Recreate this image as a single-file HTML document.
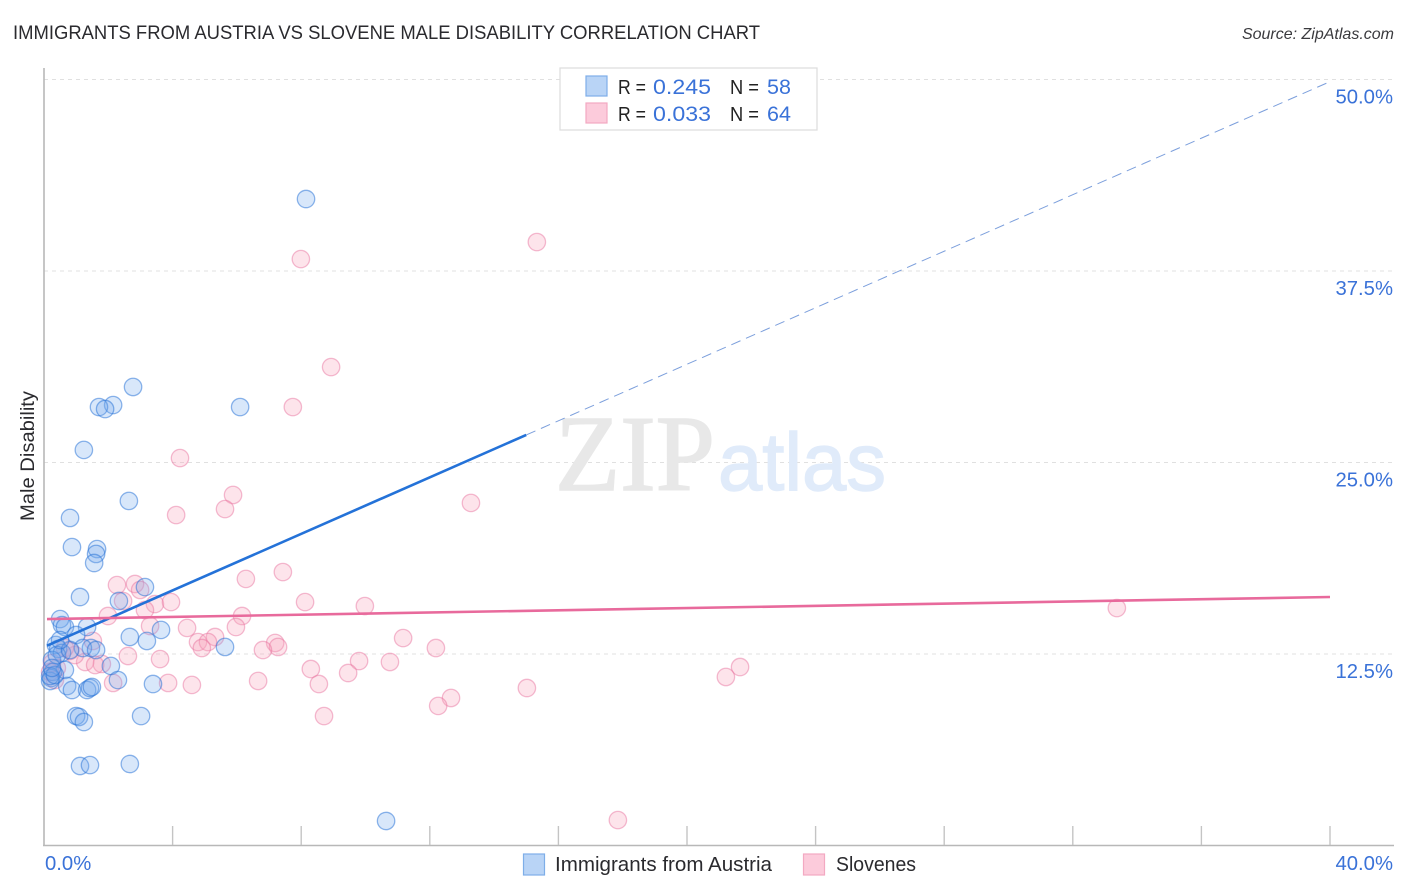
<!DOCTYPE html>
<html lang="en">
<head>
<meta charset="utf-8">
<title>Immigrants from Austria vs Slovene Male Disability Correlation Chart</title>
<style>
html,body{margin:0;padding:0;background:#fff;}
body{width:1406px;height:892px;overflow:hidden;}
svg{display:block;font-family:"Liberation Sans",sans-serif;}
</style>
</head>
<body>
<svg id="chart" width="1406" height="892" viewBox="0 0 1406 892" xmlns="http://www.w3.org/2000/svg">
  <rect x="0" y="0" width="1406" height="892" fill="#ffffff"/>
  <text x="13" y="39" font-size="19" fill="#2a2a2e" textLength="747" lengthAdjust="spacingAndGlyphs">IMMIGRANTS FROM AUSTRIA VS SLOVENE MALE DISABILITY CORRELATION CHART</text>
  <text x="1394" y="39" font-size="16" font-style="italic" fill="#3a3a3e" text-anchor="end">Source: ZipAtlas.com</text>
  <g id="grid"></g>
  <g>
    <text x="555" y="490" font-family="'Liberation Serif',serif" font-size="108" fill="#e8e8e8" stroke="#e8e8e8" stroke-width="1.6" textLength="160" lengthAdjust="spacingAndGlyphs">ZIP</text>
    <text x="718" y="490" font-size="82" fill="#e0ebfa" stroke="#e0ebfa" stroke-width="1.4" textLength="168" lengthAdjust="spacingAndGlyphs">atlas</text>
  </g>
  <g id="axes"></g>
  <g id="points"></g>
  <g id="trends"></g>
  <text transform="translate(34 456) rotate(-90)" font-size="19" fill="#2a2a2e" text-anchor="middle" textLength="130" lengthAdjust="spacingAndGlyphs">Male Disability</text>

  <g>
    <rect x="560" y="68" width="257" height="62" fill="#ffffff" stroke="#dcdcdc" stroke-width="1.2"/>
    <rect x="586" y="76" width="21" height="20" fill="#b9d4f6" stroke="#7eaee8" stroke-width="1.2"/>
    <text x="618" y="94" font-size="20.5" fill="#222" textLength="28" lengthAdjust="spacingAndGlyphs">R =</text>
    <text x="653" y="94" font-size="21.5" fill="#3a72d8" textLength="58" lengthAdjust="spacingAndGlyphs">0.245</text>
    <text x="730" y="94" font-size="20.5" fill="#222" textLength="29" lengthAdjust="spacingAndGlyphs">N =</text>
    <text x="767" y="94" font-size="21.5" fill="#3a72d8">58</text>
    <rect x="586" y="103" width="21" height="20" fill="#fccbdb" stroke="#f3a9c2" stroke-width="1.2"/>
    <text x="618" y="121" font-size="20.5" fill="#222" textLength="28" lengthAdjust="spacingAndGlyphs">R =</text>
    <text x="653" y="121" font-size="21.5" fill="#3a72d8" textLength="58" lengthAdjust="spacingAndGlyphs">0.033</text>
    <text x="730" y="121" font-size="20.5" fill="#222" textLength="29" lengthAdjust="spacingAndGlyphs">N =</text>
    <text x="767" y="121" font-size="21.5" fill="#3a72d8">64</text>
  </g>

  <g>
    <rect x="523.5" y="854" width="21" height="21" fill="#b9d4f6" stroke="#7eaee8" stroke-width="1.2"/>
    <text x="555" y="871" font-size="20" fill="#2a2a2e" textLength="217" lengthAdjust="spacingAndGlyphs">Immigrants from Austria</text>
    <rect x="803.5" y="854" width="21" height="21" fill="#fccbdb" stroke="#f3a9c2" stroke-width="1.2"/>
    <text x="836" y="871" font-size="20" fill="#2a2a2e" textLength="80" lengthAdjust="spacingAndGlyphs">Slovenes</text>
  </g>
</svg>
<script>
var austriaX = [8.15,2.77,2.15,1.71,1.90,6.10,1.24,2.64,0.81,0.87,1.65,1.62,1.56,1.12,3.14,2.33,0.50,0.56,0.65,1.34,1.00,2.67,3.20,3.64,5.63,0.37,0.44,1.46,1.21,0.56,2.08,0.65,0.25,0.28,0.22,0.19,2.30,3.39,0.72,0.87,1.34,1.43,1.49,3.02,1.00,1.09,1.24,1.12,1.43,2.67,10.64,0.19,0.34,0.40,0.81,0.50,1.62,0.25];
var austriaY = [42.20,29.93,28.75,28.62,28.49,28.62,25.82,22.49,21.38,19.48,19.35,19.03,18.44,16.22,16.87,15.96,14.78,14.39,14.26,14.26,13.74,13.61,13.35,14.07,12.96,13.09,12.83,12.89,12.89,12.57,11.72,11.46,12.11,11.33,10.93,10.74,10.80,10.54,10.41,10.15,10.15,10.28,10.35,8.45,8.45,8.39,8.06,5.19,5.25,5.32,1.60,11.06,11.13,12.43,12.76,13.41,12.76,11.59];
var sloveneX = [15.33,7.99,8.93,7.74,4.23,5.88,5.63,4.11,13.28,7.43,6.28,2.27,2.83,2.99,3.45,3.14,3.95,2.46,8.12,9.98,33.37,1.99,6.16,5.97,3.30,4.45,1.52,5.32,4.79,5.10,4.91,7.19,7.28,6.81,11.17,12.19,2.61,3.61,9.80,10.76,8.30,9.46,21.65,21.21,6.66,8.55,3.86,4.60,2.15,15.02,12.66,12.26,8.71,17.85,1.80,1.28,1.59,0.96,0.65,0.81,0.40,0.25,0.34,0.19];
var sloveneY = [39.39,38.28,31.23,28.62,25.29,22.88,21.96,21.57,22.36,17.85,17.40,17.00,17.07,16.68,15.76,15.37,15.89,15.96,15.89,15.63,15.50,14.98,14.98,14.26,14.33,14.20,13.35,13.61,13.28,13.28,12.89,13.22,12.96,12.76,13.54,12.89,12.37,12.17,12.04,11.98,11.52,11.26,11.65,11.00,10.74,10.54,10.61,10.48,10.61,10.28,9.63,9.11,8.45,1.66,11.85,11.98,11.78,12.43,12.89,12.70,11.59,11.91,10.80,11.33];
var yTickValues = [12.5,25,37.5,50];
var yTickLabels = ['12.5%','25.0%','37.5%','50.0%'];
var xTickValues = [0,4,8,12,16,20,24,28,32,36,40];
var xEndValues = [0,40];
var xEndLabels = ['0.0%','40.0%'];
var austriaTrendX = [0,15,40];
var austriaTrendY = [12.96,26.8,49.86];
var sloveneTrendX = [0,40];
var sloveneTrendY = [14.78,16.22];

var NS = 'http://www.w3.org/2000/svg';
function xScale(v){ return 44 + v * 32.15; }
function yScale(v){ return 845.5 - v * 15.32; }
function make(parent, tag, attrs){
  var el = document.createElementNS(NS, tag);
  for (var k in attrs) el.setAttribute(k, attrs[k]);
  parent.appendChild(el);
  return el;
}
var grid = document.getElementById('grid');
var axes = document.getElementById('axes');
var points = document.getElementById('points');
var trends = document.getElementById('trends');

yTickValues.forEach(function(v, i){
  var y = yScale(v);
  var line = make(grid, 'line', {x1:44, x2:1394, y1:y, y2:y, stroke:'#e0e0e0', 'stroke-width':1, 'stroke-dasharray':'4 4'});
  
  
  var label = make(axes, 'text', {x:1393, y:y + 24, 'font-size':20.3, fill:'#3a72d8', 'text-anchor':'end'});
  label.textContent = yTickLabels[i];
  
  
});

var yAxis = make(axes, 'line', {x1:44, x2:44, y1:68, y2:846, stroke:'#b8b8b8', 'stroke-width':1.6});


var xAxis = make(axes, 'line', {x1:43, x2:1394, y1:845.5, y2:845.5, stroke:'#b8b8b8', 'stroke-width':1.4});



xTickValues.forEach(function(v){
  if (v === 0) return;
  var x = xScale(v);
  var tick = make(axes, 'line', {x1:x, x2:x, y1:826, y2:845, stroke:'#c4c4c4', 'stroke-width':1.4});
  
  
});

xEndValues.forEach(function(v, i){
  var label = make(axes, 'text', {x: i === 0 ? xScale(v) + 1 : 1393, y:870, 'font-size':20.3, fill:'#3a72d8', 'text-anchor': i === 0 ? 'start' : 'end'});
  label.textContent = xEndLabels[i];
  
  
});

sloveneX.forEach(function(v, i){
  var c = make(points, 'circle', {cx:xScale(v), cy:yScale(sloveneY[i]), r:8.7, fill:'rgba(247,165,190,0.30)', stroke:'rgba(232,115,158,0.48)', 'stroke-width':1.3});
  
  
});
austriaX.forEach(function(v, i){
  var c = make(points, 'circle', {cx:xScale(v), cy:yScale(austriaY[i]), r:8.7, fill:'rgba(115,170,238,0.28)', stroke:'rgba(40,115,215,0.52)', 'stroke-width':1.3});
  
  
});

var blueSolid = make(trends, 'line', {x1:xScale(austriaTrendX[0]) + 3, y1:yScale(austriaTrendY[0] + 3 / 32.15 * 0.9225), x2:xScale(austriaTrendX[1]), y2:yScale(austriaTrendY[1]), stroke:'#2472d8', 'stroke-width':2.6});


var blueDash = make(trends, 'line', {x1:xScale(austriaTrendX[1]), y1:yScale(austriaTrendY[1]), x2:xScale(austriaTrendX[2]), y2:yScale(austriaTrendY[2]), stroke:'#7c9fdc', 'stroke-width':1, 'stroke-dasharray':'10 6'});


var pinkLine = make(trends, 'line', {x1:xScale(sloveneTrendX[0]) + 3, y1:yScale(sloveneTrendY[0]), x2:xScale(sloveneTrendX[1]), y2:yScale(sloveneTrendY[1]), stroke:'#e86a9c', 'stroke-width':2.6});


</script>
</body>
</html>
